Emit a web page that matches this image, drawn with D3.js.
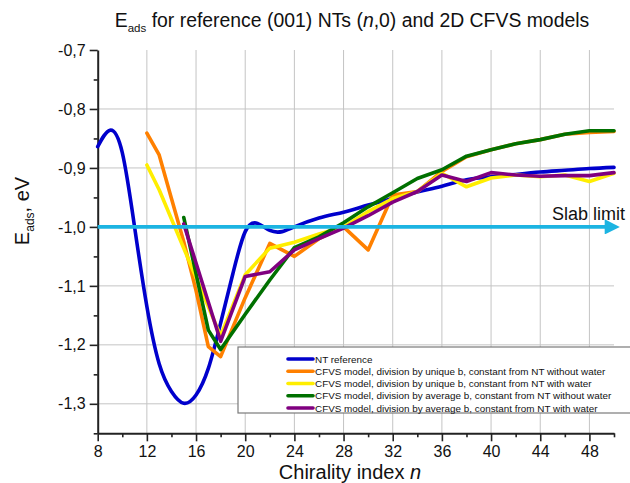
<!DOCTYPE html>
<html>
<head>
<meta charset="utf-8">
<script src="https://cdn.jsdelivr.net/npm/d3@7"></script>
<style>
  body { margin: 0; background: #fff; }
  svg { font-family: "Liberation Sans", Arial, sans-serif; }
</style>
</head>
<body>
<div id="chart"></div>
<script>
// values
const xMajor = [8, 12, 16, 20, 24, 28, 32, 36, 40, 44, 48]
const xMinor = [10, 14, 18, 22, 26, 30, 34, 38, 42, 46, 50]
const yMajor = [-0.7, -0.8, -0.9, -1.0, -1.1, -1.2, -1.3]
const yMinor = [-0.75, -0.85, -0.95, -1.05, -1.15, -1.25, -1.35]

const ntN = [8, 9, 10, 11, 12, 13, 14, 15, 16, 17, 18, 19, 20, 21, 22, 23, 24, 26, 28, 30, 32, 34, 36, 38, 40, 42, 44, 46, 48, 50]
const ntE = [-0.864, -0.836, -0.874, -1.0, -1.135, -1.232, -1.279, -1.299, -1.285, -1.24, -1.163, -1.079, -1.008, -0.994, -1.006, -1.008, -1.0, -0.985, -0.975, -0.963, -0.952, -0.941, -0.931, -0.92, -0.915, -0.911, -0.907, -0.904, -0.901, -0.899]

const uniqNoWaterN = [12, 13, 14, 15, 16, 17, 18, 20, 22, 24, 26, 28, 30, 32, 34, 36, 38, 40, 42, 44, 46, 48, 50]
const uniqNoWaterE = [-0.841, -0.878, -0.952, -1.025, -1.108, -1.203, -1.22, -1.12, -1.028, -1.05, -1.02, -1.0, -1.039, -0.946, -0.94, -0.906, -0.881, -0.869, -0.859, -0.852, -0.843, -0.84, -0.838]

const uniqWaterN = [12, 13, 18, 20, 22, 24, 26, 28, 30, 32, 34, 36, 38, 40, 42, 44, 46, 48, 50]
const uniqWaterE = [-0.895, -0.937, -1.185, -1.081, -1.036, -1.026, -1.012, -1.0, -0.974, -0.952, -0.94, -0.909, -0.932, -0.917, -0.912, -0.915, -0.912, -0.923, -0.909]

const avgNoWaterN = [15, 17, 18, 20, 22, 24, 26, 28, 30, 32, 34, 36, 38, 40, 42, 44, 46, 48, 50]
const avgNoWaterE = [-0.984, -1.175, -1.208, -1.148, -1.09, -1.035, -1.017, -0.993, -0.966, -0.942, -0.918, -0.903, -0.88, -0.869, -0.859, -0.852, -0.843, -0.837, -0.837]

const avgWaterN = [15, 18, 20, 22, 24, 26, 28, 30, 32, 34, 36, 38, 40, 42, 44, 46, 48, 50]
const avgWaterE = [-0.995, -1.194, -1.084, -1.076, -1.039, -1.02, -1.002, -0.981, -0.958, -0.94, -0.912, -0.923, -0.908, -0.912, -0.914, -0.913, -0.913, -0.908]

const seriesNames = [
  "NT reference",
  "CFVS model, division by unique b, constant from NT without water",
  "CFVS model, division by unique b, constant from NT with water",
  "CFVS model, division by average b, constant from NT without water",
  "CFVS model, division by average b, constant from NT with water"
]
const seriesColors = ["#0000cc", "#ff8000", "#ffee00", "#007000", "#800080"]

const slabLimit = -1.0
const slabRange = [8, 50.75]

drawChart("#chart")

function drawChart(id){
  const canvas = createCanvas()
  const svg = d3.select(id).append("svg").attr("width", canvas.width).attr("height", canvas.height)

  const x = d3.scaleLinear().domain([8, 50]).range([canvas.left, canvas.right])
  const y = d3.scaleLinear().domain([-1.35, -0.7]).range([canvas.bottom, canvas.top])

  addGrid(svg, x, y, canvas)
  addAxes(svg, x, y, canvas)

  const series = [
    {n: ntN, e: ntE, curve: d3.curveNatural},
    {n: uniqNoWaterN, e: uniqNoWaterE, curve: d3.curveLinear},
    {n: uniqWaterN, e: uniqWaterE, curve: d3.curveLinear},
    {n: avgNoWaterN, e: avgNoWaterE, curve: d3.curveLinear},
    {n: avgWaterN, e: avgWaterE, curve: d3.curveLinear}
  ].map((s, i) => ({...s, name: seriesNames[i], color: seriesColors[i], pts: s.n.map((v, j) => [v, s.e[j]])}))

  addLines(svg, series, x, y)
  addSlab(svg, x, y)
  addLegend(svg, series)
  addTitles(svg, canvas)
}

function createCanvas(){
  return {width: 630, height: 483, left: 97.7, right: 614, top: 50, bottom: 433.3}
}

function addGrid(svg, x, y, canvas){
  svg.append("g").selectAll("line").data(xMajor.slice(1)).enter().append("line")
    .attr("x1", d => x(d)).attr("x2", d => x(d)).attr("y1", canvas.top).attr("y2", canvas.bottom)
    .attr("stroke", "#c4c4c4").attr("stroke-width", 1)
  svg.append("g").selectAll("line").data(yMajor.slice(1)).enter().append("line")
    .attr("x1", canvas.left).attr("x2", canvas.right).attr("y1", d => y(d)).attr("y2", d => y(d))
    .attr("stroke", "#c4c4c4").attr("stroke-width", 1)
}

function fmtComma(d){
  return d3.format(".1f")(d).replace(".", ",").replace("−", "-")
}

function addAxes(svg, x, y, canvas){
  const xAxis = svg.append("g").attr("transform", `translate(0,${canvas.bottom})`)
    .call(d3.axisBottom(x).tickValues(xMajor).tickSize(8).tickSizeOuter(0).tickPadding(4))
  svg.append("g").attr("transform", `translate(0,${canvas.bottom})`)
    .call(d3.axisBottom(x).tickValues(xMinor).tickSize(4).tickFormat("").tickSizeOuter(0))
    .select(".domain").remove()

  const yAxis = svg.append("g").attr("transform", `translate(${canvas.left},0)`)
    .call(d3.axisLeft(y).tickValues(yMajor).tickSize(8).tickSizeOuter(0).tickPadding(4).tickFormat(fmtComma))
  svg.append("g").attr("transform", `translate(${canvas.left},0)`)
    .call(d3.axisLeft(y).tickValues(yMinor).tickSize(4).tickFormat("").tickSizeOuter(0))
    .select(".domain").remove()

  svg.selectAll(".domain").attr("stroke", "#222").attr("stroke-width", 2)
  svg.selectAll(".tick line").attr("stroke", "#222").attr("stroke-width", 1.6)
  xAxis.selectAll("text").attr("font-size", "16px").attr("fill", "#111").attr("font-family", "Liberation Sans, Arial, sans-serif")
  yAxis.selectAll("text").attr("font-size", "16px").attr("fill", "#111").attr("font-family", "Liberation Sans, Arial, sans-serif")
}

function addLines(svg, series, x, y){
  series.forEach(s => {
    svg.append("path").datum(s.pts)
      .attr("d", d3.line().x(d => x(d[0])).y(d => y(d[1])).curve(s.curve))
      .attr("fill", "none").attr("stroke", s.color).attr("stroke-width", 3.6)
      .attr("stroke-linejoin", "round").attr("stroke-linecap", "round")
  })
}

function addSlab(svg, x, y){
  svg.append("defs").append("marker").attr("id", "arrow")
    .attr("viewBox", "0 0 10 10").attr("refX", 1).attr("refY", 5)
    .attr("markerWidth", 4.6).attr("markerHeight", 4.2).attr("markerUnits", "strokeWidth")
    .attr("orient", "auto")
    .append("path").attr("d", "M0,0 L10,5 L0,10 Z").attr("fill", "#1cb4e2")

  svg.append("line")
    .attr("x1", x(slabRange[0])).attr("x2", x(slabRange[1]) - 17)
    .attr("y1", y(slabLimit)).attr("y2", y(slabLimit))
    .attr("stroke", "#1cb4e2").attr("stroke-width", 3.6)
    .attr("marker-end", "url(#arrow)")

  svg.append("text").attr("x", 625).attr("y", y(slabLimit) - 7)
    .attr("text-anchor", "end").attr("font-size", "18px").attr("fill", "#111").text("Slab limit")
}

function addLegend(svg, series){
  const lg = svg.append("g")
  lg.append("rect").attr("x", 238).attr("y", 347).attr("width", 420).attr("height", 66)
    .attr("fill", "#fff").attr("stroke", "#7a7a7a").attr("stroke-width", 1.2)
  const rows = lg.selectAll(".row").data(series).enter().append("g").attr("class", "row")
    .attr("transform", (d, i) => `translate(0,${359 + i * 12.25})`)
  rows.append("line").attr("x1", 288).attr("x2", 313).attr("y1", 0).attr("y2", 0)
    .attr("stroke", d => d.color).attr("stroke-width", 3.6).attr("stroke-linecap", "round")
  rows.append("text").attr("x", 315).attr("y", 3.7).attr("font-size", "9.9px").attr("fill", "#111")
    .text(d => d.name)
}

function addTitles(svg, canvas){
  const t = svg.append("text").attr("x", 352).attr("y", 27).attr("text-anchor", "middle")
    .attr("font-size", "19.4px").attr("fill", "#111")
  t.append("tspan").text("E")
  t.append("tspan").attr("font-size", "11.5px").attr("dy", 5).text("ads")
  t.append("tspan").attr("dy", -5).text(" for reference (001) NTs (")
  t.append("tspan").attr("font-style", "italic").text("n")
  t.append("tspan").text(",0) and 2D CFVS models")

  const xl = svg.append("text").attr("x", 350).attr("y", 479).attr("text-anchor", "middle")
    .attr("font-size", "20px").attr("fill", "#111")
  xl.append("tspan").text("Chirality index ")
  xl.append("tspan").attr("font-style", "italic").text("n")

  const yl = svg.append("text").attr("transform", "translate(29,211) rotate(-90)").attr("text-anchor", "middle")
    .attr("font-size", "20px").attr("fill", "#111")
  yl.append("tspan").text("E")
  yl.append("tspan").attr("font-size", "12px").attr("dy", 5).text("ads")
  yl.append("tspan").attr("dy", -5).text(", eV")
}
</script>
</body>
</html>
